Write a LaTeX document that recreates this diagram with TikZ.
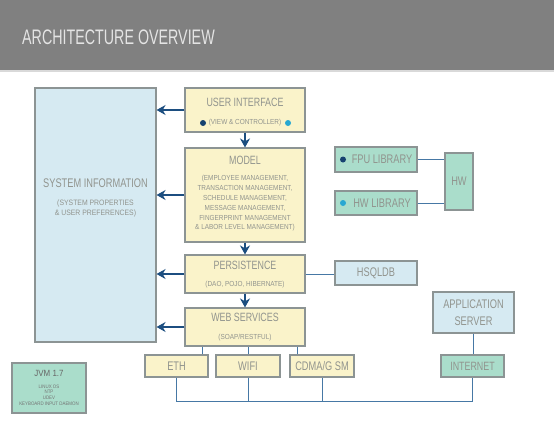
\documentclass[tikz,border=0pt]{standalone}
\usepackage{fontspec}
\setmainfont{Liberation Sans}[FakeStretch=0.68]
\newfontfamily\headfont{Liberation Sans}[FakeStretch=0.74]
\newfontfamily\subfont{Liberation Sans}[FakeStretch=0.88]
\usetikzlibrary{arrows.meta, positioning, calc}
\definecolor{headgray}{RGB}{128,128,128}
\definecolor{titlegray}{RGB}{228,228,228}
\definecolor{framegray}{RGB}{140,148,148}
\definecolor{skyfill}{RGB}{214,234,242}
\definecolor{creamfill}{RGB}{250,243,202}
\definecolor{mintfill}{RGB}{170,221,203}
\definecolor{labelgray}{RGB}{145,148,142}
\definecolor{arrowblue}{RGB}{28,78,128}
\definecolor{linkblue}{RGB}{70,120,165}
\definecolor{dotdark}{RGB}{22,66,112}
\definecolor{dotcyan}{RGB}{40,168,210}

\begin{document}
\begin{tikzpicture}[x=1pt, y=-1pt, >={Stealth[length=9pt,width=10pt]},
    box/.style={draw=framegray, line width=1.1pt, inner sep=0pt},
    bluebox/.style={box, fill=skyfill},
    yellowbox/.style={box, fill=creamfill},
    greenbox/.style={box, fill=mintfill},
    head/.style={inner sep=0pt, text=labelgray, font=\headfont\fontsize{12}{12}\selectfont},
    bighead/.style={head, font=\headfont\fontsize{12.5}{12.5}\selectfont},
    small/.style={inner sep=0pt, text=labelgray, align=center, font=\subfont\fontsize{7.3}{9.8}\selectfont},
    dot/.style={circle, inner sep=0pt, minimum size=6pt},
    arrow/.style={->, line width=1.8pt, arrowblue},
    link/.style={line width=1pt, linkblue}]
  \useasboundingbox (0,0) rectangle (554,426);

  % header band
  \fill[headgray] (0,0) rectangle (554,70);
  \fill[black!15] (0,70) rectangle (554,72);
  \node[anchor=west, inner sep=0pt, text=titlegray, font=\fontsize{21}{21}\selectfont] (title) at (22,37) {ARCHITECTURE OVERVIEW};

  % boxes
  \node[bluebox, minimum width=121pt, minimum height=254pt] (sys) at (95.5,215) {};
  \node[yellowbox, minimum width=120pt, minimum height=44pt] (ui) at (245,110) {};
  \node[yellowbox, minimum width=120pt, minimum height=94pt] (model) at (245,195) {};
  \node[yellowbox, minimum width=120pt, minimum height=38pt] (persist) at (245,274) {};
  \node[yellowbox, minimum width=120pt, minimum height=38pt] (web) at (245,327) {};
  \node[greenbox, minimum width=82pt, minimum height=25pt] (fpu) at (376,159.5) {};
  \node[greenbox, minimum width=82pt, minimum height=24pt] (hwlib) at (376,203) {};
  \node[greenbox, minimum width=28pt, minimum height=57pt] (hw) at (459,181.5) {};
  \node[bluebox, minimum width=82pt, minimum height=24pt] (hsqldb) at (376,273) {};
  \node[bluebox, minimum width=81pt, minimum height=41pt] (appsrv) at (473.5,312.5) {};
  \node[greenbox, minimum width=63pt, minimum height=22pt] (internet) at (472.5,366) {};
  \node[yellowbox, minimum width=63pt, minimum height=22pt] (eth) at (176.5,366) {};
  \node[yellowbox, minimum width=64pt, minimum height=22pt] (wifi) at (248,366) {};
  \node[yellowbox, minimum width=64pt, minimum height=22pt] (cdma) at (322,366) {};
  \node[greenbox, minimum width=74pt, minimum height=50pt] (jvm) at (49,388) {};

  % labels
  \node[bighead] (syshead) at (95.5,183) {SYSTEM INFORMATION};
  \node[small, font=\subfont\fontsize{7.8}{10}\selectfont] (syssub) at (95.5,208) {(SYSTEM PROPERTIES\\\& USER PREFERENCES)};
  \node[head] (uihead) at (245,102) {USER INTERFACE};
  \node[small] (uisub) at (245,123) {(VIEW \& CONTROLLER)};
  \node[head] (modelhead) at (245,160) {MODEL};
  \node[small] (modelsub) at (245,203.5) {(EMPLOYEE MANAGEMENT,\\TRANSACTION MANAGEMENT,\\SCHEDULE MANAGEMENT,\\MESSAGE MANAGEMENT,\\FINGERPRINT MANAGEMENT\\\& LABOR LEVEL MANAGEMENT)};
  \node[head] (persisthead) at (245,265) {PERSISTENCE};
  \node[small] (persistsub) at (245,285) {(DAO, POJO, HIBERNATE)};
  \node[head] (webhead) at (245,317) {WEB SERVICES};
  \node[small] (websub) at (245,338) {(SOAP/RESTFUL)};
  \node[bighead] (fpuhead) at (382,159.5) {FPU LIBRARY};
  \node[bighead] (hwlibhead) at (382,203) {HW LIBRARY};
  \node[bighead] (hwhead) at (459,181.5) {HW};
  \node[bighead] (hsqlhead) at (376,273) {HSQLDB};
  \node[bighead, align=center, font=\headfont\fontsize{12.5}{17}\selectfont] (apphead) at (473.5,313) {APPLICATION\\SERVER};
  \node[head] (nethead) at (472.5,366) {INTERNET};
  \node[bighead] (ethhead) at (176.5,366) {ETH};
  \node[bighead] (wifihead) at (248,366) {WIFI};
  \node[bighead] (cdmahead) at (322,366) {CDMA/G SM};
  \node[small, text=black!60, font=\subfont\fontsize{9}{9}\selectfont] (jvmhead) at (49,373) {JVM 1.7};
  \node[small, text=black!55, font=\subfont\fontsize{5}{5.8}\selectfont] (jvmsub) at (49,395) {LINUX OS\\NTP\\UDEV\\KEYBOARD INPUT DAEMON};

  % dots
  \node[dot, fill=dotdark] (uidot1) at (203,123) {};
  \node[dot, fill=dotcyan] (uidot2) at (288,123) {};
  \node[dot, fill=dotdark] (fpudot) at (343,159.5) {};
  \node[dot, fill=dotcyan] (hwdot) at (343,203) {};

  % layers -> system information
  \draw[arrow] (ui.west) -- (ui.west -| sys.east);
  \draw[arrow] (model.west) -- (model.west -| sys.east);
  \draw[arrow] (persist.west) -- (persist.west -| sys.east);
  \draw[arrow] (web.west) -- (web.west -| sys.east);

  % down the stack
  \draw[arrow] (ui.south) -- (model.north);
  \draw[arrow] (model.south) -- (persist.north);
  \draw[arrow] (persist.south) -- (web.north);

  % side links
  \draw[link] (persist.east) -- (persist.east -| hsqldb.west);
  \draw[link] (fpu.east) -- (fpu.east -| hw.west);
  \draw[link] (hwlib.east) -- (hwlib.east -| hw.west);
  \draw[link] (appsrv.south) -- (appsrv.south |- internet.north);

  % web services -> network
  \draw[link] ([xshift=-6pt]eth.north east) -- ([xshift=-6pt]eth.north east |- web.south);
  \draw[link] (wifi.north) -- (wifi.north |- web.south);
  \draw[link] ([xshift=8pt]cdma.north west) -- ([xshift=8pt]cdma.north west |- web.south);

  % bus
  \coordinate (bus) at (0,401);
  \draw[link] (eth.south) |- (internet.south |- bus) -- (internet.south);
  \draw[link] (wifi.south) -- (wifi.south |- bus);
  \draw[link] (cdma.south) -- (cdma.south |- bus);
\end{tikzpicture}
\end{document}
